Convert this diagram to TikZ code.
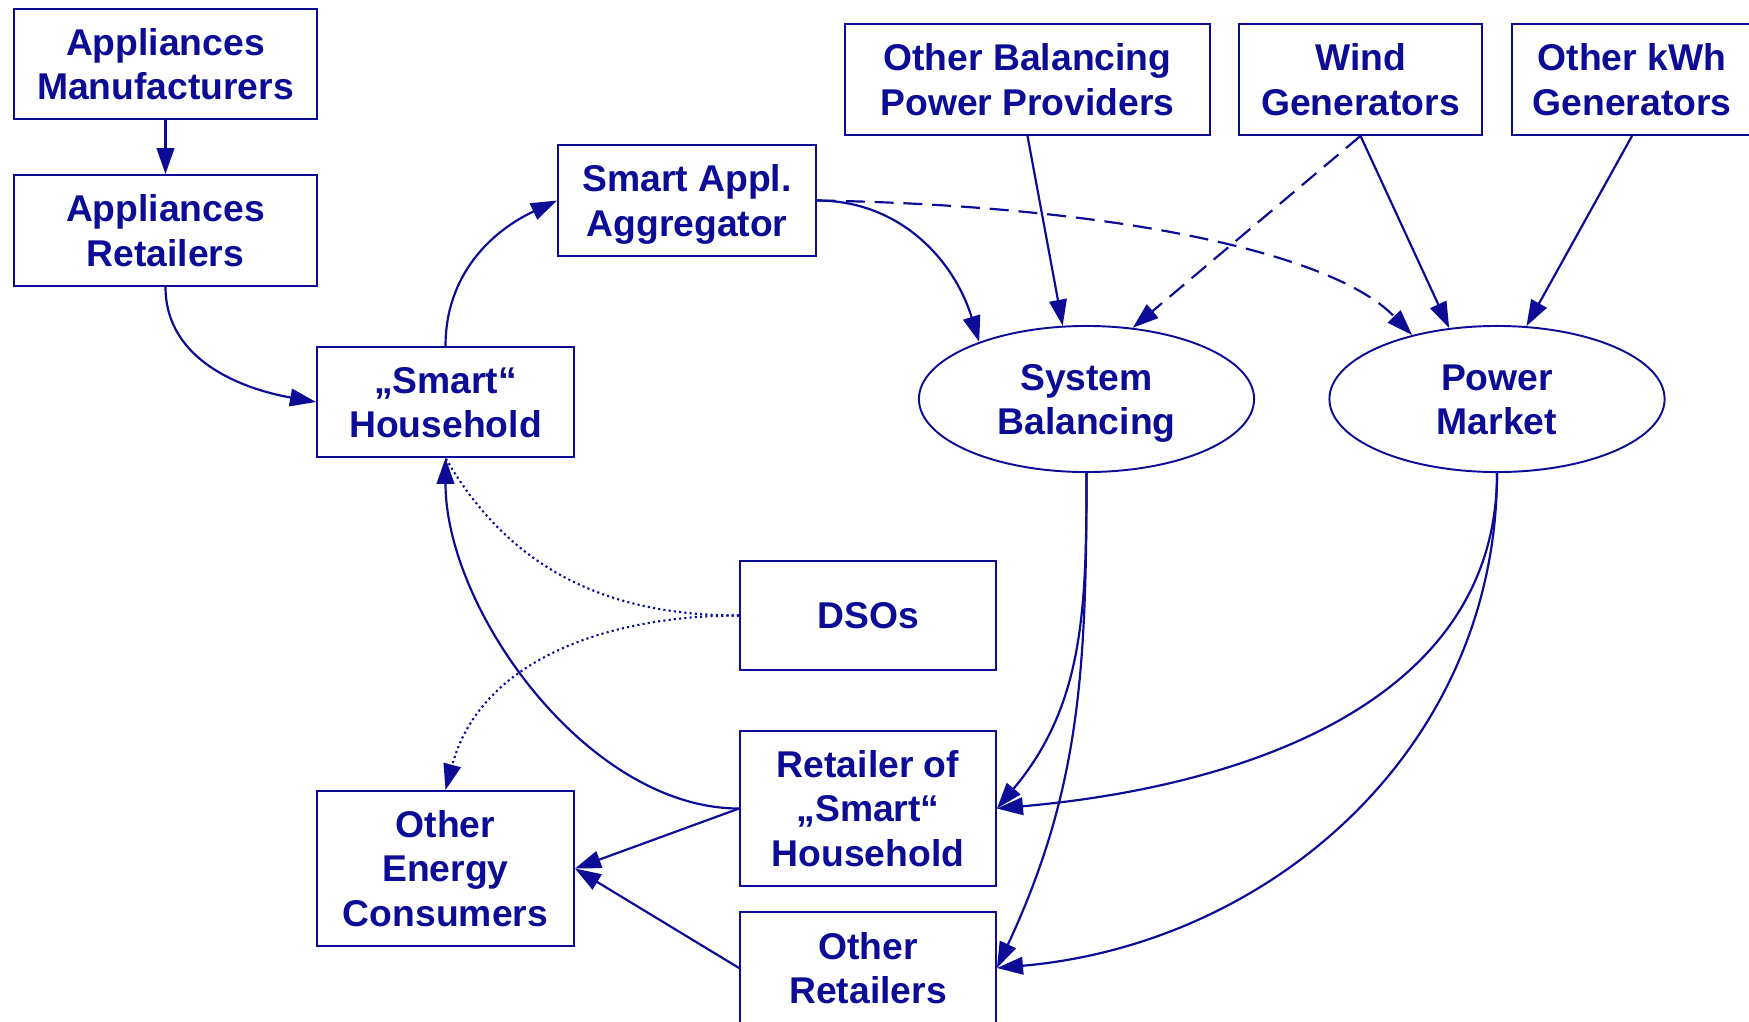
\documentclass[tikz,border=0pt]{standalone}
\usepackage{fontspec}
\setmainfont{Liberation Sans}
\usetikzlibrary{arrows.meta,shapes.geometric}
\definecolor{navy}{RGB}{12,12,150}
\newcommand\ls{\vrule height 9.9pt depth 2.3pt width 0pt}
\begin{document}
\begin{tikzpicture}[x=0.01cm,y=0.01cm,
  every node/.style={font=\fontsize{10.6}{12.6}\selectfont\bfseries, text=navy, align=center, inner sep=0pt},
  box/.style={draw=navy, line width=0.5pt, rectangle},
  oval/.style={draw=navy, line width=0.55pt, ellipse},
  conn/.style={draw=navy, line width=0.62pt, -{Triangle[length=7.4pt,width=5pt]}},
  dashconn/.style={conn, dash pattern=on 5.4pt off 2.8pt},
  dotconn/.style={draw=navy, line width=0.6pt, dash pattern=on 0.6pt off 0.9pt}
]
\useasboundingbox (0,0) rectangle (1749,-1021);
\fill[white] (0,0) rectangle (1749,-1021);

\node[box, minimum width=3.03cm, minimum height=1.10cm] (am) at (165.5,-64) {\ls Appliances\\Manufacturers\ls};
\node[box, minimum width=3.03cm, minimum height=1.11cm] (ar) at (165.5,-230.5) {\ls Appliances\\Retailers\ls};
\node[box, minimum width=2.57cm, minimum height=1.10cm] (sh) at (445.5,-402) {\ls „Smart“\\Household\ls};
\node[box, minimum width=2.58cm, minimum height=1.11cm] (agg) at (687,-200.5) {\ls Smart Appl.\\Aggregator\ls};
\node[box, minimum width=3.65cm, minimum height=1.11cm] (obpp) at (1027.5,-79.5) {\ls Other Balancing\\Power Providers\ls};
\node[box, minimum width=2.43cm, minimum height=1.11cm] (wind) at (1360.5,-79.5) {\ls Wind\\Generators\ls};
\node[box, minimum width=2.40cm, minimum height=1.11cm] (okwh) at (1632,-79.5) {\ls Other kWh\\Generators\ls};
\node[oval, minimum width=3.35cm, minimum height=1.46cm] (sb) at (1086.5,-399) {\ls System\\Balancing\ls};
\node[oval, minimum width=3.35cm, minimum height=1.46cm] (pm) at (1497,-399) {\ls Power\\Market\ls};
\node[box, minimum width=2.56cm, minimum height=1.09cm] (dso) at (868,-615.5) {\ls DSOs};
\node[box, minimum width=2.56cm, minimum height=1.55cm] (ret) at (868,-808.5) {\ls Retailer of\\„Smart“\\Household\ls};
\node[box, minimum width=2.57cm, minimum height=1.55cm] (oec) at (445.5,-868.5) {\ls Other\\Energy\\Consumers\ls};
\node[box, minimum width=2.56cm, minimum height=1.12cm] (orr) at (868,-968) {\ls Other\\Retailers\ls};

% dotted links from DSOs
\draw[dotconn] (dso.west) to[out=180,in=-60] (sh.south);
\draw[dotconn, -{Triangle[length=7.4pt,width=5pt]}] (dso.west) to[out=180,in=75] (oec.north);

% left side
\draw[conn] (am.south) -- (ar.north);
\draw[conn] (ar.south) to[out=-90,in=170] (sh.west);
\draw[conn] (sh.north) to[out=90,in=205] (agg.west);
\draw[conn] (ret.west) to[out=180,in=-90,looseness=0.85] (sh.south);
\draw[conn] (ret.west) -- (oec.east);
\draw[conn] (orr.west) -- (oec.east);

% aggregator
\draw[conn] (agg.east) to[out=0,in=107] (sb.152);
\draw[dashconn] (agg.east) .. controls (1100,-205) and (1330,-250) .. (pm.143);

% generators
\draw[conn] (obpp.south) -- (sb.108);
\draw[dashconn] (wind.south) -- (sb.57);
\draw[conn] (wind.south) -- (pm.124);
\draw[conn] (okwh.south) -- (pm.68);

% to retailers
\draw[conn] (sb.south) to[out=-90,in=50] (ret.east);
\draw[conn] (sb.south) to[out=-90,in=65] (orr.east);
\draw[conn] (pm.south) to[out=-90,in=5] (ret.east);
\draw[conn] (pm.south) to[out=-90,in=5] (orr.east);
\end{tikzpicture}
\end{document}
